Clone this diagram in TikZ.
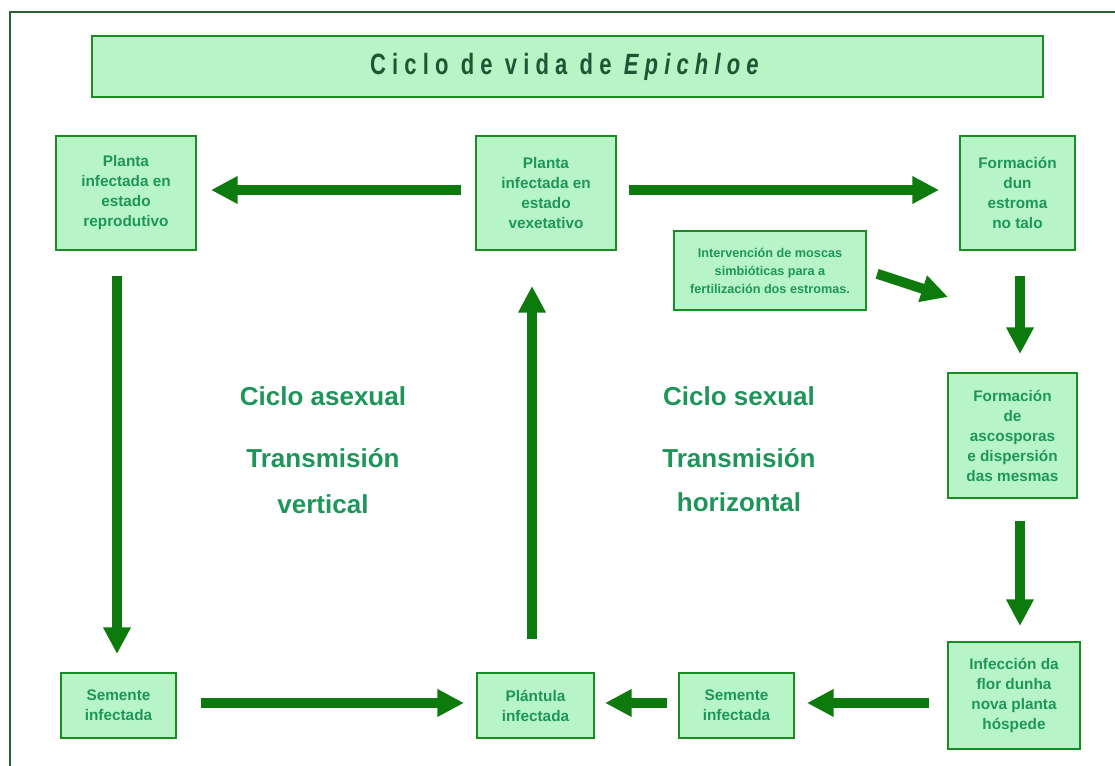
\documentclass[tikz,border=0pt]{standalone}
\usepackage{fontspec}
\setmainfont{Liberation Sans}
\newfontfamily\titlefont[FakeStretch=0.75,LetterSpace=21]{Liberation Sans}
\usetikzlibrary{arrows.meta}
\definecolor{boxfill}{RGB}{183,245,198}
\definecolor{boxline}{RGB}{25,140,35}
\definecolor{arrowgreen}{RGB}{12,122,12}
\definecolor{txtgreen}{RGB}{30,150,90}
\definecolor{titletxt}{RGB}{30,85,50}
\definecolor{framegreen}{RGB}{45,95,55}
\begin{document}
\begin{tikzpicture}[x=0.75pt,y=-0.75pt,
  stagebox/.style={draw=boxline, fill=boxfill, line width=1.5pt, align=center, text=txtgreen,
    font=\bfseries\fontsize{11.5}{15}\selectfont, inner sep=0pt},
  smallbox/.style={stagebox, font=\bfseries\fontsize{9.5}{13.5}\selectfont},
  titlebox/.style={draw=boxline, fill=boxfill, line width=1.5pt, text=titletxt, inner sep=0pt,
    minimum width=713.25pt, minimum height=45.75pt},
  flow/.style={draw=arrowgreen, line width=7.5pt, -{Triangle[length=20pt,width=19.5pt]}},
  biglabel/.style={text=txtgreen, font=\bfseries\fontsize{19.5}{23}\selectfont}]
\useasboundingbox (0,0) rectangle (1115,766);
\draw[framegreen, line width=1.5pt] (1115,12) -- (10,12) -- (10,766);

\node[titlebox] (title) at (567.5,66.5) {\titlefont\bfseries\fontsize{22}{26}\selectfont\raisebox{-1.5pt}{Ciclo de vida de \textit{Epichloe}}};

\node[stagebox, minimum width=105pt, minimum height=85.5pt] (A) at (126,193)
  {Planta\\infectada en\\estado\\reprodutivo};
\node[stagebox, minimum width=105pt, minimum height=85.5pt] (B) at (546,193)
  {Planta\\infectada en\\estado\\vexetativo};
\node[stagebox, minimum width=86.25pt, minimum height=85.5pt] (C) at (1017.5,193)
  {Formación\\dun\\estroma\\no talo};
\node[smallbox, minimum width=144pt, minimum height=59.25pt] (D) at (770,270.5)
  {Intervención de moscas\\simbióticas para a\\fertilización dos estromas.};
\node[stagebox, minimum width=96.75pt, minimum height=93.75pt] (E) at (1012.5,435.5)
  {Formación\\de\\ascosporas\\e dispersión\\das mesmas};
\node[stagebox, minimum width=99pt, minimum height=80.25pt] (F) at (1014,695.5)
  {Infección da\\flor dunha\\nova planta\\hóspede};
\node[stagebox, minimum width=86.25pt, minimum height=48.75pt] (G) at (118.5,705.5)
  {Semente\\infectada};
\node[stagebox, minimum width=87.75pt, minimum height=48.75pt] (H) at (535.5,705.5)
  {Plántula\\infectada};
\node[stagebox, minimum width=86.25pt, minimum height=48.75pt] (I) at (736.5,705.5)
  {Semente\\infectada};

\coordinate (dtip) at (948,297);

\draw[flow, shorten <=10.5pt, shorten >=10.5pt] ([yshift=2.25pt]B.west) -- ([yshift=2.25pt]A.east);
\draw[flow, shorten <=9pt, shorten >=15pt] ([yshift=2.25pt]B.east) -- ([yshift=2.25pt]C.west);
\draw[flow, shorten <=8pt] (D.east) -- (dtip);
\draw[flow, shorten <=18.75pt, shorten >=13.5pt] ([xshift=1.9pt]C.south) -- ([xshift=1.9pt]C.south |- E.north);
\draw[flow, shorten <=16.5pt, shorten >=11.25pt] ([xshift=5.6pt]E.south) -- ([xshift=5.6pt]E.south |- F.north);
\draw[flow, shorten <=13.5pt, shorten >=9pt] ([yshift=-5.6pt]F.west) -- ([yshift=-5.6pt]F.west -| I.east);
\draw[flow, shorten <=8.25pt, shorten >=7.5pt] ([yshift=1.9pt]I.west) -- ([yshift=1.9pt]H.east);
\draw[flow, shorten <=18pt, shorten >=9pt] ([yshift=1.9pt]G.east) -- ([yshift=1.9pt]H.west);
\draw[flow, shorten <=18.75pt, shorten >=13.5pt] ([xshift=-6.75pt]A.south) -- ([xshift=-6.75pt]A.south |- G.north);
\draw[flow, shorten <=24.75pt, shorten >=26.25pt] ([xshift=-2.6pt]H.north) -- ([xshift=-2.6pt]H.north |- B.south);

\node[biglabel] (asex) at (323,396) {Ciclo asexual};
\node[biglabel] (tv1) at (323,458) {Transmisión};
\node[biglabel] (tv2) at (323,504) {vertical};
\node[biglabel] (sex) at (739,396) {Ciclo sexual};
\node[biglabel] (th1) at (739,458) {Transmisión};
\node[biglabel] (th2) at (739,502) {horizontal};
\end{tikzpicture}
\end{document}
